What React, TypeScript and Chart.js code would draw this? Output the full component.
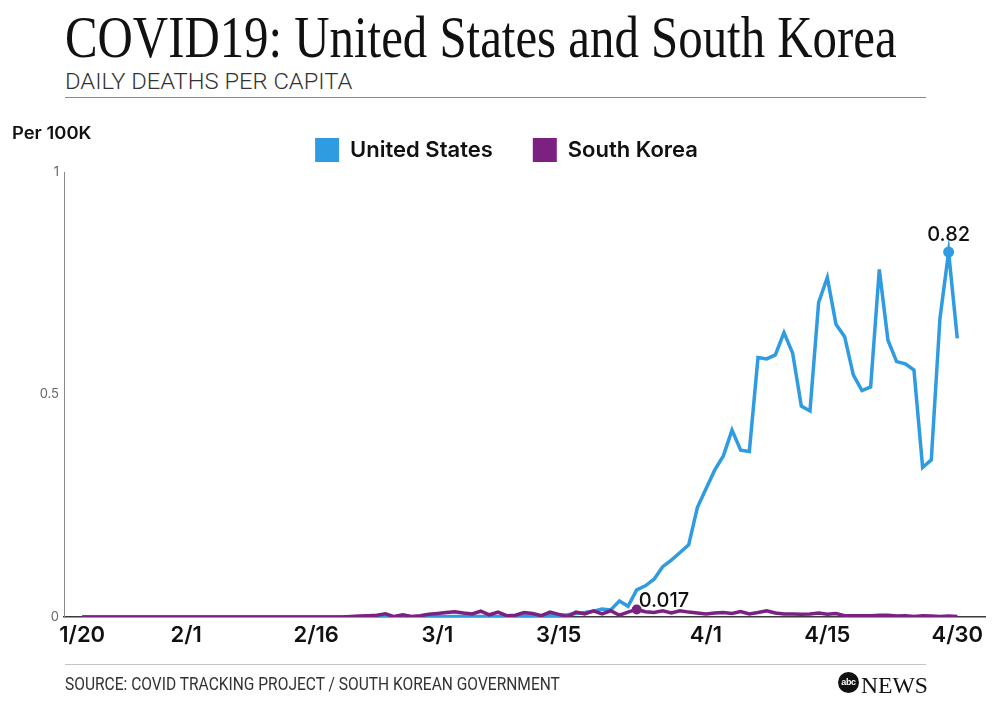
import React, { useEffect, useLayoutEffect, useRef } from 'react';
import { Chart, registerables } from 'chart.js';

Chart.register(...registerables);

// ---------- data ----------
// x = days since 1/20 (2020)
const tickDays = [0, 12, 27, 41, 55, 72, 86, 101];
const tickLabels = ['1/20', '2/1', '2/16', '3/1', '3/15', '4/1', '4/15', '4/30'];
const yTicks = [0, 0.5, 1];

const seriesNames = ['United States', 'South Korea'];

// daily deaths per 100K, United States (1/20 .. 4/30)
const usValues = [
  0, 0, 0, 0, 0, 0, 0, 0, 0, 0,
  0, 0, 0, 0, 0, 0, 0, 0, 0, 0,
  0, 0, 0, 0, 0, 0, 0, 0, 0, 0,
  0, 0, 0, 0, 0, 0, 0, 0, 0, 0,
  0, 0.001, 0.001, 0.001, 0.001, 0.001, 0.001, 0.001, 0.001, 0.002,
  0.002, 0.002, 0.003, 0.002, 0.003, 0.004, 0.005, 0.008, 0.010, 0.013,
  0.018, 0.016, 0.036, 0.024, 0.061, 0.070, 0.085, 0.113, 0.128, 0.145,
  0.162, 0.246, 0.288, 0.330, 0.362, 0.420, 0.375, 0.372, 0.583, 0.580,
  0.589, 0.639, 0.593, 0.474, 0.463, 0.707, 0.763, 0.658, 0.630, 0.544,
  0.509, 0.517, 0.781, 0.622, 0.574, 0.569, 0.555, 0.336, 0.353, 0.671,
  0.820, 0.626,
];

// daily deaths per 100K, South Korea (1/20 .. 4/30)
const krValues = [
  0, 0, 0, 0, 0, 0, 0, 0, 0, 0,
  0, 0, 0, 0, 0, 0, 0, 0, 0, 0,
  0, 0, 0, 0, 0, 0, 0, 0, 0, 0,
  0, 0.001, 0.002, 0.003, 0.004, 0.007, 0.001, 0.005, 0.001, 0.003,
  0.006, 0.008, 0.010, 0.012, 0.009, 0.007, 0.013, 0.005, 0.011, 0.003,
  0.004, 0.010, 0.008, 0.003, 0.011, 0.006, 0.001, 0.011, 0.007, 0.014,
  0.007, 0.014, 0.004, 0.011, 0.017, 0.012, 0.010, 0.014, 0.009, 0.014,
  0.011, 0.009, 0.007, 0.009, 0.010, 0.008, 0.012, 0.007, 0.010, 0.014,
  0.009, 0.007, 0.007, 0.006, 0.007, 0.009, 0.006, 0.008, 0.003, 0.003,
  0.003, 0.003, 0.004, 0.004, 0.002, 0.003, 0.001, 0.003, 0.002, 0.001,
  0.002, 0.001,
];

const BLUE = '#2f9be0';
const PURPLE = '#7b2182';

const argMax = (a: number[]) => a.reduce((bi, v, i) => (v > a[bi] ? i : bi), 0);
const usPeak = argMax(usValues);
const krPeak = argMax(krValues);

function Fit(props: { left: number; top: number; width: number; style: React.CSSProperties; children: React.ReactNode }) {
  const ref = useRef<HTMLDivElement>(null);
  useLayoutEffect(() => {
    const el = ref.current;
    if (!el) return;
    el.style.transform = 'none';
    const w = el.offsetWidth;
    if (w > 0) el.style.transform = `scaleX(${props.width / w})`;
  });
  return (
    <div
      ref={ref}
      style={{
        position: 'absolute',
        left: props.left,
        top: props.top,
        whiteSpace: 'nowrap',
        transformOrigin: '0 0',
        lineHeight: 1,
        ...props.style,
      }}
    >
      {props.children}
    </div>
  );
}

const peakLabels = {
  id: 'peakLabels',
  afterDatasetsDraw(chart: any) {
    const ctx = chart.ctx;
    ctx.save();
    ctx.fillStyle = '#111';
    ctx.font = '500 20px Inter';
    ctx.textBaseline = 'alphabetic';
    const pu = chart.getDatasetMeta(0).data[usPeak];
    ctx.textAlign = 'center';
    ctx.fillText(String(usValues[usPeak]), pu.x, pu.y - 11);
    const pk = chart.getDatasetMeta(1).data[krPeak];
    ctx.textAlign = 'left';
    ctx.fillText(String(krValues[krPeak]), pk.x + 2, pk.y - 2);
    ctx.restore();
  },
};

export default function App() {
  const canvasRef = useRef<HTMLCanvasElement>(null);

  useEffect(() => {
    const canvas = canvasRef.current;
    if (!canvas) return;
    const chart = new Chart(canvas, {
      type: 'line',
      data: {
        datasets: [
          {
            label: seriesNames[0],
            data: usValues.map((v, i) => ({ x: i, y: v })),
            borderColor: BLUE,
            backgroundColor: BLUE,
            borderWidth: 3.5,
            tension: 0,
            pointRadius: (c: any) => (c.dataIndex === usPeak ? 5.5 : 0),
            pointHoverRadius: 0,
            pointBackgroundColor: BLUE,
            pointBorderWidth: 0,
            order: 2,
          },
          {
            label: seriesNames[1],
            data: krValues.map((v, i) => ({ x: i, y: v })),
            borderColor: PURPLE,
            backgroundColor: PURPLE,
            borderWidth: 3.5,
            tension: 0,
            pointRadius: (c: any) => (c.dataIndex === krPeak ? 5 : 0),
            pointHoverRadius: 0,
            pointBackgroundColor: PURPLE,
            pointBorderWidth: 0,
            order: 1,
          },
        ],
      },
      options: {
        responsive: false,
        animation: false,
        events: [],
        layout: { padding: { left: 28, right: 7, top: 98, bottom: 30 } },
        plugins: {
          tooltip: { enabled: false },
          legend: {
            position: 'top',
            align: 'center',
            labels: {
              sort: (a: any, b: any) => a.datasetIndex - b.datasetIndex,
              boxWidth: 24,
              boxHeight: 24,
              padding: 40,
              color: '#111',
              font: { family: 'Inter', size: 22, weight: '600' },
              generateLabels: (chart: any) =>
                chart.data.datasets.map((d: any, i: number) => ({
                  text: d.label,
                  fillStyle: d.borderColor,
                  strokeStyle: d.borderColor,
                  lineWidth: 0,
                  hidden: false,
                  datasetIndex: i,
                  fontColor: '#111',
                })),
            },
          },
        },
        scales: {
          x: {
            type: 'linear',
            min: -2.1,
            max: 104.2,
            afterFit: (s: any) => {
              s.height = 54;
            },
            afterBuildTicks: (s: any) => {
              s.ticks = tickDays.map((v) => ({ value: v }));
            },
            grid: { display: false, drawTicks: false },
            border: { display: true, color: '#3a3a3a', width: 1.5 },
            ticks: {
              autoSkip: false,
              maxRotation: 0,
              padding: 5,
              color: '#111',
              font: { family: 'Inter', size: 22, weight: '600' },
              callback: (v: any) => tickLabels[tickDays.indexOf(Number(v))] ?? '',
            },
          },
          y: {
            type: 'linear',
            min: 0,
            max: 1,
            afterFit: (s: any) => {
              s.width = 36;
            },
            afterBuildTicks: (s: any) => {
              s.ticks = yTicks.map((v) => ({ value: v }));
            },
            grid: { display: false, drawTicks: false },
            border: { display: true, color: '#8a8a8a', width: 1 },
            ticks: {
              padding: 5,
              color: '#666',
              font: { family: 'Inter', size: 13, weight: '400' },
              callback: (v: any) => String(v),
            },
          },
        },
      },
      plugins: [peakLabels],
    } as any);
    return () => chart.destroy();
  }, []);

  return (
    <div
      style={{
        position: 'absolute',
        left: 0,
        top: 0,
        width: 992,
        height: 701,
        background: '#fff',
        overflow: 'hidden',
      }}
    >
      <Fit left={65} top={8} width={832} style={{ fontFamily: '"Liberation Serif", serif', fontSize: 59, color: '#111' }}>
        COVID19: United States and South Korea
      </Fit>
      <Fit left={65} top={71} width={287} style={{ fontFamily: 'Roboto, sans-serif', fontWeight: 300, fontSize: 22, color: '#333' }}>
        DAILY DEATHS PER CAPITA
      </Fit>
      <div style={{ position: 'absolute', left: 65, top: 97, width: 861, borderTop: '1.5px solid #8a8a8a' }} />
      <canvas
        ref={canvasRef}
        width={992}
        height={701}
        style={{ position: 'absolute', left: 0, top: 0, width: 992, height: 701 }}
      />
      <Fit left={12} top={125} width={80} style={{ fontFamily: 'Inter, sans-serif', fontWeight: 600, fontSize: 17, color: '#111' }}>
        Per 100K
      </Fit>
      <div style={{ position: 'absolute', left: 65, top: 664, width: 861, borderTop: '1px solid #c4c4c4' }} />
      <Fit left={65} top={675} width={495} style={{ fontFamily: 'Roboto, sans-serif', fontWeight: 400, fontSize: 18, color: '#333' }}>
        SOURCE: COVID TRACKING PROJECT / SOUTH KOREAN GOVERNMENT
      </Fit>
      <div
        style={{
          position: 'absolute',
          left: 838,
          top: 672,
          width: 21,
          height: 21,
          borderRadius: '50%',
          background: '#111',
          color: '#fff',
          fontFamily: '"Liberation Sans", Arial, sans-serif',
          fontWeight: 700,
          fontSize: 9,
          lineHeight: '21px',
          textAlign: 'center',
          letterSpacing: -0.3,
        }}
      >
        abc
      </div>
      <Fit left={861} top={673} width={67} style={{ fontFamily: '"Liberation Serif", serif', fontSize: 24, color: '#111' }}>
        NEWS
      </Fit>
    </div>
  );
}
